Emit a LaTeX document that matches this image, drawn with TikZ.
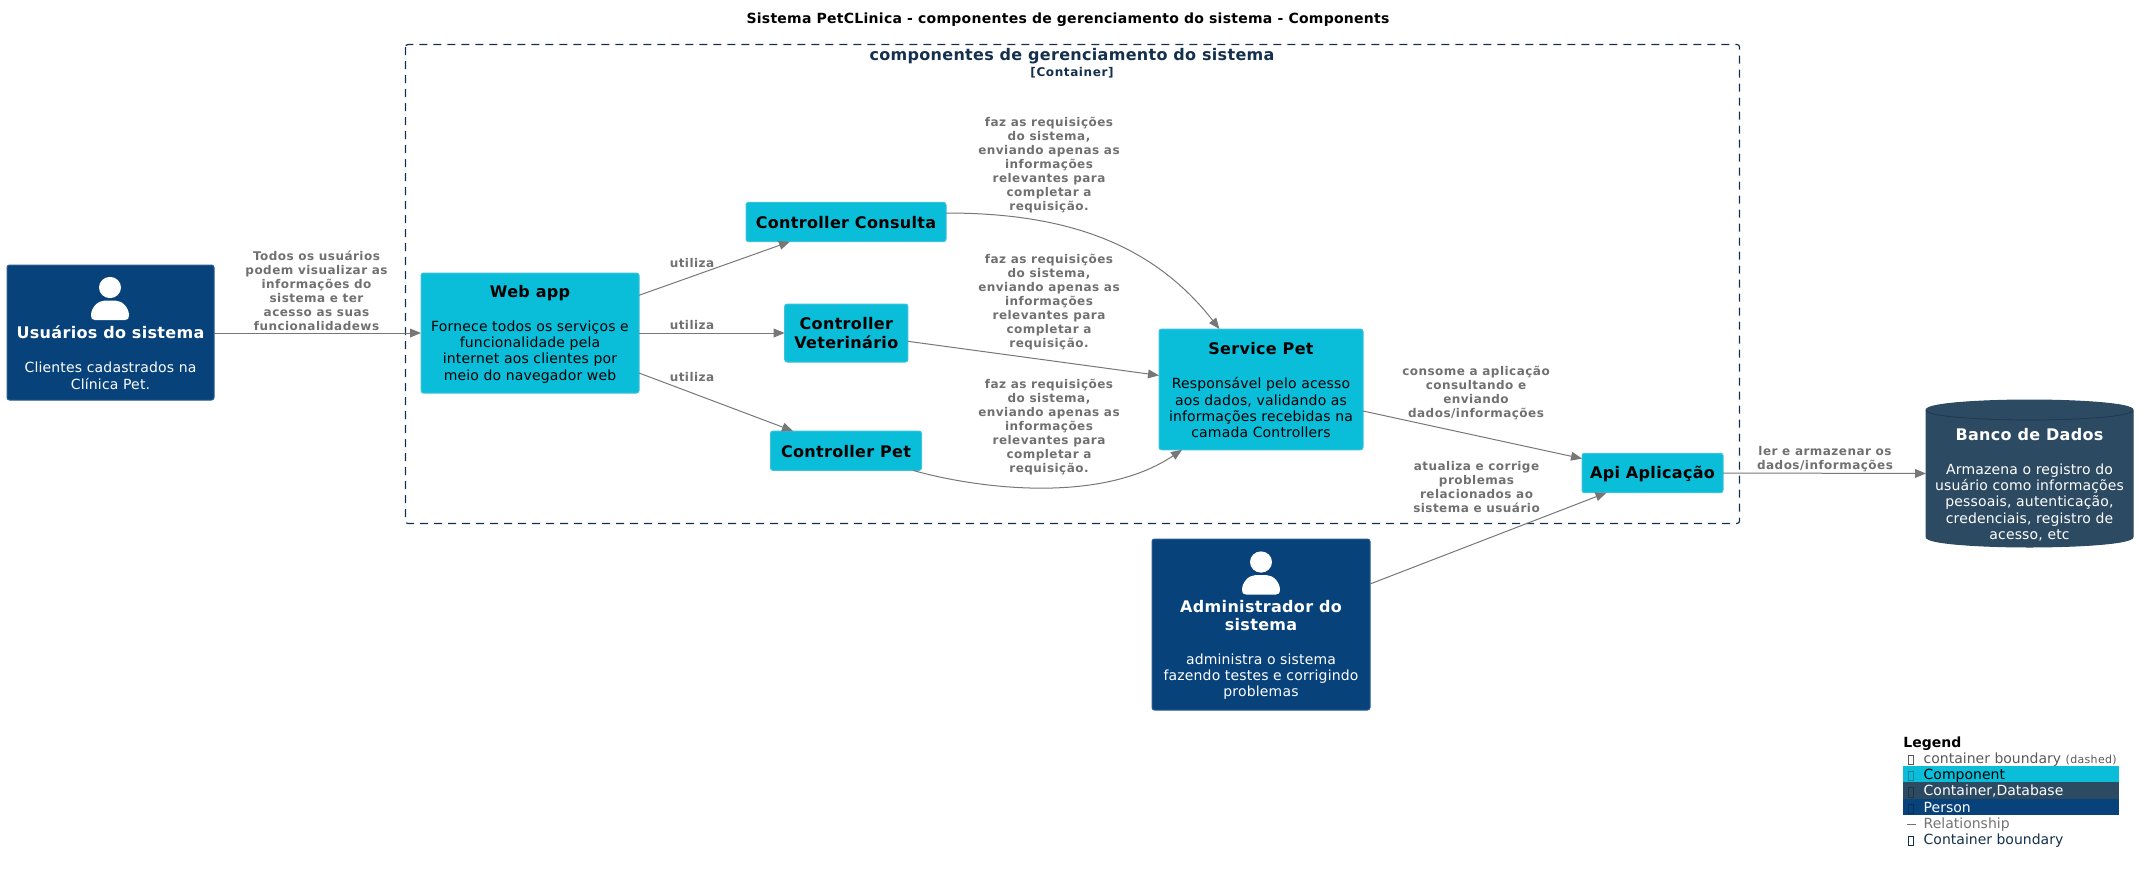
\documentclass[tikz,border=0pt]{standalone}
\usepackage{fontspec}
\setmainfont{DejaVu Sans}
\usetikzlibrary{arrows.meta,shapes.geometric}
\definecolor{compc}{HTML}{0ABDD9}
\definecolor{compb}{HTML}{3CC3DC}
\definecolor{persc}{HTML}{08427B}
\definecolor{persb}{HTML}{2A5C90}
\definecolor{dbc}{HTML}{2D4A63}
\definecolor{dbl}{HTML}{1F3650}
\definecolor{bnd}{HTML}{14304C}
\definecolor{relc}{HTML}{777777}
\definecolor{relt}{HTML}{707070}
\newcommand{\ttlf}{\bfseries\fontsize{8}{9.3}\selectfont\addfontfeature{LetterSpace=2}}
\newcommand{\tf}[1]{{\ttlf #1}}
\newcommand{\dscf}{\fontsize{7}{8.15}\selectfont\addfontfeature{LetterSpace=1.2}}
\newcommand{\topstr}{\rule{0pt}{7.1pt}}
\tikzset{
  boxbase/.style={rectangle,rounded corners=1.25pt,inner sep=0pt,outer sep=0pt,align=center,
    font=\dscf,line width=0.5pt},
  comp/.style={boxbase,fill=compc,draw=compb,text=black},
  pers/.style={boxbase,fill=persc,draw=persb,text=white},
  dbtext/.style={inner sep=0pt,outer sep=0pt,align=center,text=white,font=\dscf},
  rellabel/.style={inner sep=0pt,align=center,text=relt,font=\bfseries\fontsize{6}{7}\selectfont\addfontfeature{LetterSpace=3.9}},
  rel/.style={draw=relc,line width=0.5pt,-{Triangle[length=5.5pt,width=4.4pt]}},
  legtext/.style={anchor=base west,inner sep=0pt,font=\fontsize{7}{8.15}\selectfont},
  legrow/.style={inner sep=0pt,outer sep=0pt,minimum width=108pt,minimum height=8.15pt},
  tofu/.style={line width=0.4pt},
}
\newcommand{\personicon}[2]{%
  \begin{scope}[shift={(#1,#2)}]
    \fill[white] (0,0) ellipse [x radius=11,y radius=10.6];
    \fill[white] (-15,32.5) .. controls (-18,32.5) and (-19,31) .. (-19,28)
      .. controls (-19,20) and (-12,13.2) .. (-6,13.2) -- (6,13.2)
      .. controls (12,13.2) and (19,20) .. (19,28)
      .. controls (19,31) and (18,32.5) .. (15,32.5) -- cycle;
  \end{scope}}
\begin{document}
\begin{tikzpicture}[x=0.5pt,y=-0.5pt]
\useasboundingbox (0,0) rectangle (2149,873);
% title
\node[inner sep=0pt,font=\bfseries\fontsize{7}{8.15}\selectfont\addfontfeature{LetterSpace=1.9}] (title) at (1068,20)
  {Sistema PetCLinica - componentes de gerenciamento do sistema - Components};
% boundary
\draw[bnd,line width=0.6pt,dash pattern=on 4pt off 3pt,rounded corners=1.25pt] (405.5,44.5) rectangle (1739.5,523.5);
\node[inner sep=0pt,text=bnd,font=\bfseries\fontsize{8}{9.3}\selectfont\addfontfeature{LetterSpace=1.9}] (btitle) at (1072,56.5) {componentes de gerenciamento do sistema};
\node[inner sep=0pt,text=bnd,font=\bfseries\fontsize{6}{7}\selectfont\addfontfeature{LetterSpace=5}] (bsub) at (1072,72.3) {[Container]};
% nodes
\node[pers,minimum width=103.5pt,minimum height=67.5pt] (user) at (110.5,332.5)
  {\mbox{}\\[23.35pt]\tf{Usuários do sistema}\\[8.85pt]Clientes cadastrados na\\Clínica Pet.};
\personicon{110}{287.5}
\node[comp,minimum width=109pt,minimum height=60pt] (web) at (530,333)
  {\topstr\tf{Web app}\\[8.85pt]Fornece todos os serviços e\\funcionalidade pela\\internet aos clientes por\\meio do navegador web};
\node[comp,minimum width=100pt,minimum height=19.6pt] (consulta) at (846,222) {\topstr\tf{Controller Consulta}};
\node[comp,minimum width=61.6pt,minimum height=29pt] (vet) at (846.3,333) {\tf{Controller}\\[1pt]\tf{Veterinário}};
\node[comp,minimum width=75.5pt,minimum height=19.7pt] (pet) at (846,450.7) {\topstr\tf{Controller Pet}};
\node[comp,minimum width=102pt,minimum height=60.4pt] (service) at (1261,389.4)
  {\topstr\tf{Service Pet}\\[8.85pt]Responsável pelo acesso\\aos dados, validando as\\informações recebidas na\\camada Controllers};
\node[comp,minimum width=70.5pt,minimum height=19.7pt] (api) at (1652.5,473) {\topstr\tf{Api Aplicação}};
\node[pers,minimum width=109pt,minimum height=85.5pt] (admin) at (1261,624.5)
  {\mbox{}\\[23.35pt]\tf{Administrador do}\\[0.8pt]\tf{sistema}\\[8.85pt]administra o sistema\\fazendo testes e corrigindo\\problemas};
\personicon{1261}{562}
% database
\fill[dbc,draw=dbc,line width=0.5pt] (1926,410) .. controls (1926,403) and (1985,400) .. (2029.5,400)
  .. controls (2074,400) and (2133,403) .. (2133,410) -- (2133,537)
  .. controls (2133,544) and (2074,547) .. (2029.5,547)
  .. controls (1985,547) and (1926,544) .. (1926,537) -- cycle;
\draw[dbl,line width=0.35pt] (1926,410) .. controls (1926,417) and (1985,420) .. (2029.5,420)
  .. controls (2074,420) and (2133,417) .. (2133,410);
\node[dbtext,minimum width=103.5pt,minimum height=73.5pt] (db) at (2029.5,483.5)
  {\topstr\tf{Banco de Dados}\\[8.85pt]Armazena o registro do\\usuário como informações\\pessoais, autenticação,\\credenciais, registro de\\acesso, etc};
% connectors
\draw[rel] ([yshift=-0.25pt]user.east) -- (web.west);
\draw[rel] ([yshift=18.85pt]web.east) -- ([xshift=-28pt]consulta.south);
\draw[rel] (web.east) -- (vet.west);
\draw[rel] ([yshift=-20pt]web.east) -- ([xshift=-26.5pt]pet.north);
\draw[rel] ([yshift=4.5pt]consulta.east) .. controls (1060,213) and (1150,240) .. ([xshift=-20.8pt]service.north);
\draw[rel] ([yshift=-4.15pt]vet.east) -- ([yshift=7pt]service.west);
\draw[rel] ([xshift=33.5pt]pet.south) .. controls (975,488) and (1100,505) .. ([xshift=-39.5pt]service.south);
\draw[rel] ([yshift=-10.8pt]service.east) -- ([yshift=7.2pt]api.west);
\draw[rel] ([yshift=20.25pt]admin.east) -- ([xshift=-23pt]api.south);
\draw[rel] (api.east) -- ([yshift=5pt]db.west);
% labels
\node[rellabel] (l1) at (316.5,290.5) {Todos os usuários\\podem visualizar as\\informações do\\sistema e ter\\acesso as suas\\funcionalidadews};
\node[rellabel] (l2) at (692,263.3) {utiliza};
\node[rellabel] (l3) at (692,325) {utiliza};
\node[rellabel] (l4) at (692,376.7) {utiliza};
\node[rellabel] (l5) at (1049,164.6) {faz as requisições\\do sistema,\\enviando apenas as\\informações\\relevantes para\\completar a\\requisição.};
\node[rellabel] (l6) at (1049,301.6) {faz as requisições\\do sistema,\\enviando apenas as\\informações\\relevantes para\\completar a\\requisição.};
\node[rellabel] (l7) at (1049,426.6) {faz as requisições\\do sistema,\\enviando apenas as\\informações\\relevantes para\\completar a\\requisição.};
\node[rellabel] (l8) at (1476,392.6) {consome a aplicação\\consultando e\\enviando\\dados/informações};
\node[rellabel] (l9) at (1476.5,486.7) {atualiza e corrige\\problemas\\relacionados ao\\sistema e usuário};
\node[rellabel] (l10) at (1825,458.7) {ler e armazenar os\\dados/informações};
% legend
\node[legtext,font=\bfseries\fontsize{7}{8.15}\selectfont] (lgt) at (1903,747.3) {Legend};
\node[legrow,fill=compc] (rc) at (2011,774.3) {};
\node[legrow,fill=dbc] (rd) at (2011,790.5) {};
\node[legrow,fill=persc] (rp) at (2011,806.8) {};
\node[legtext,text=black!65] (t1) at (1923.3,763) {container boundary {\fontsize{5.5}{7}\selectfont\addfontfeature{LetterSpace=3}(dashed)}};
\node[legtext,text=black] (t2) at (1923.3,779.3) {Component};
\node[legtext,text=white] (t3) at (1923.3,795.6) {Container,Database};
\node[legtext,text=white] (t4) at (1923.3,812) {Person};
\node[legtext,text=black!55] (t5) at (1923.3,828.3) {Relationship};
\node[legtext,text=bnd] (t6) at (1923.3,844.6) {Container boundary};
\draw[tofu,black!65] (1908.5,755) rectangle (1913,764);
\draw[tofu,compc!70!black] (1908.5,771) rectangle (1913,780.5);
\draw[tofu,dbc!70!black] (1908.5,787.5) rectangle (1913,797);
\draw[tofu,persc!75!black] (1908.5,804) rectangle (1913,813);
\draw[black!55,line width=0.4pt] (1907,824) -- (1916,824);
\draw[tofu,bnd] (1908.5,836) rectangle (1913,845.5);
\end{tikzpicture}
\end{document}
